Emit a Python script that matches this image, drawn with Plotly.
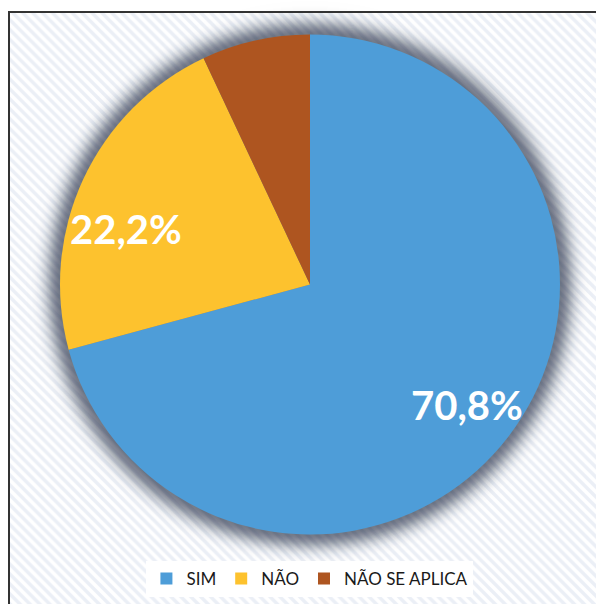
import math
import plotly.graph_objects as go

labels = ["SIM", "NÃO", "NÃO SE APLICA"]
values = [70.8, 22.2, 7.0]
text_labels = ["70,8%", "22,2%", ""]
colors = ["#4E9DD8", "#FDC22E", "#AE5520"]

W, H = 596, 604
cx, cy, R = 310, 284.5, 250
label_radius = [0.79, 0.77, 0.6]      # fraction of radius (style)
label_angle_nudge = [0, -8, 0]         # degrees (style)

fig = go.Figure()

# hatched background
fig.add_trace(go.Scatter(
    x=[9, W + 5, W + 5, 9, 9], y=[-5, -5, H - 12, H - 12, -5],
    fill="toself", mode="lines", line=dict(width=0),
    fillcolor="white",
    fillpattern=dict(shape="\\", fgcolor="#D8E0EE", bgcolor="white", size=7, solidity=0.5),
    hoverinfo="skip", showlegend=False,
))

def dom(r):
    return dict(x=[(cx - r) / W, (cx + r) / W], y=[1 - (cy + r) / H, 1 - (cy - r) / H])

# soft shadow (glow) behind the pie: gaussian-like opacity profile
def target(d):
    return 0.62 * math.exp(-(d / 14.0) ** 2)

N = 34
ds = [k * 1.0 for k in range(1, N + 1)]
layers = []
for i, d in enumerate(ds):
    t_in = 1 - target(d - 0.5)
    t_out = 1 - target(ds[i + 1] - 0.5) if i + 1 < N else 1.0
    a = 1 - t_in / t_out
    layers.append((d, max(a, 0.0)))
for d, a in reversed(layers):
    fig.add_trace(go.Pie(
        values=[1], labels=["s"], domain=dom(R + d), sort=False,
        marker=dict(colors=[f"rgba(40,50,72,{a:.4f})"], line=dict(width=0)),
        textinfo="none", hoverinfo="skip", showlegend=False,
    ))

fig.add_trace(go.Pie(
    labels=labels, values=values,
    domain=dom(R), sort=False, direction="clockwise", rotation=0,
    marker=dict(colors=colors, line=dict(width=0)),
    textinfo="none",
    hoverinfo="label+percent", showlegend=True,
))

# slice labels placed along each slice's mid-angle
total = sum(values)
cum = 0.0
for v, t, f, nud in zip(values, text_labels, label_radius, label_angle_nudge):
    mid = (cum + v / 2) / total * 2 * math.pi + math.radians(nud)
    cum += v
    if not t:
        continue
    px = cx + f * R * math.sin(mid)
    py = cy - f * R * math.cos(mid)
    fig.add_annotation(x=px, y=H - py, xref="x", yref="y", text=t, showarrow=False,
                       font=dict(family="Lato", size=40, color="white", weight="bold"))

fig.add_shape(type="rect", xref="paper", yref="paper",
              x0=9 / W, x1=1.05, y0=-0.05, y1=1 - 12 / H,
              line=dict(color="#333333", width=2), fillcolor="rgba(0,0,0,0)")

fig.update_layout(
    width=W, height=H,
    margin=dict(l=0, r=0, t=0, b=0),
    paper_bgcolor="white", plot_bgcolor="white",
    xaxis=dict(range=[0, W], visible=False, domain=[0, 1], fixedrange=True),
    yaxis=dict(range=[0, H], visible=False, domain=[0, 1], fixedrange=True),
    legend=dict(orientation="h", x=0.52, xanchor="center", y=1 - 579 / H, yanchor="middle",
                font=dict(family="Lato", size=17, color="#1A1A1A"),
                bgcolor="white", itemwidth=30, traceorder="normal"),
)

fig.write_html("out.html", config={"displayModeBar": False},
               post_script="document.body.style.margin='0';")
